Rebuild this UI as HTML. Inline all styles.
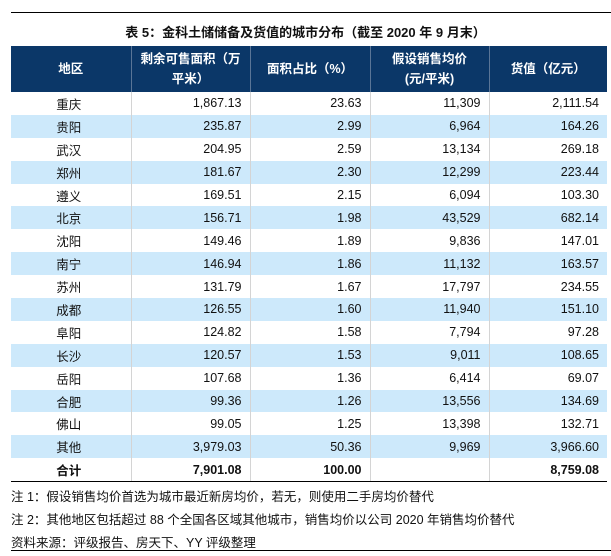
<!DOCTYPE html>
<html><head><meta charset="utf-8"><style>
body{margin:0;width:611px;height:556px;background:#fff;font-family:"Liberation Sans","Noto Sans CJK SC",sans-serif;position:relative;overflow:hidden}
.topline{position:absolute;left:11px;right:0;top:12px;border-top:1.5px solid #000}
.title{position:absolute;left:0;width:611px;top:22px;text-align:center;font-weight:bold;font-size:13px;color:#111}
table{position:absolute;left:11px;top:46px;width:596px;border-collapse:collapse;font-size:12.5px;color:#111}
th{background:#0b3768;color:#fff;font-weight:bold;height:46px;padding:0 4px;line-height:20px;border-left:1px solid #5a7597}
th:first-child{border-left:none}
td{height:22.9px;padding:0 8px 0 4px;text-align:right;border-left:1px solid #d4d4d4}
td:first-child{text-align:center;border-left:none}
tr.b td{background:#cde9fb}
tr.t td{font-weight:bold;border-bottom:1.5px solid #000}
.n{position:absolute;left:11px;font-size:12.5px;color:#111}
.bot{position:absolute;left:11px;right:0;top:550px;border-top:1.5px solid #000}
</style></head><body>
<div class="topline"></div>
<div class="title">表 5：金科土储储备及货值的城市分布（截至 2020 年 9 月末）</div>
<table>
<colgroup><col style="width:120px"><col style="width:119px"><col style="width:120px"><col style="width:119px"><col style="width:118px"></colgroup>
<tr><th>地区</th><th>剩余可售面积（万<br>平米）</th><th>面积占比（%）</th><th>假设销售均价<br>(元/平米)</th><th>货值（亿元）</th></tr>
<tr><td>重庆</td><td>1,867.13</td><td>23.63</td><td>11,309</td><td>2,111.54</td></tr>
<tr class="b"><td>贵阳</td><td>235.87</td><td>2.99</td><td>6,964</td><td>164.26</td></tr>
<tr><td>武汉</td><td>204.95</td><td>2.59</td><td>13,134</td><td>269.18</td></tr>
<tr class="b"><td>郑州</td><td>181.67</td><td>2.30</td><td>12,299</td><td>223.44</td></tr>
<tr><td>遵义</td><td>169.51</td><td>2.15</td><td>6,094</td><td>103.30</td></tr>
<tr class="b"><td>北京</td><td>156.71</td><td>1.98</td><td>43,529</td><td>682.14</td></tr>
<tr><td>沈阳</td><td>149.46</td><td>1.89</td><td>9,836</td><td>147.01</td></tr>
<tr class="b"><td>南宁</td><td>146.94</td><td>1.86</td><td>11,132</td><td>163.57</td></tr>
<tr><td>苏州</td><td>131.79</td><td>1.67</td><td>17,797</td><td>234.55</td></tr>
<tr class="b"><td>成都</td><td>126.55</td><td>1.60</td><td>11,940</td><td>151.10</td></tr>
<tr><td>阜阳</td><td>124.82</td><td>1.58</td><td>7,794</td><td>97.28</td></tr>
<tr class="b"><td>长沙</td><td>120.57</td><td>1.53</td><td>9,011</td><td>108.65</td></tr>
<tr><td>岳阳</td><td>107.68</td><td>1.36</td><td>6,414</td><td>69.07</td></tr>
<tr class="b"><td>合肥</td><td>99.36</td><td>1.26</td><td>13,556</td><td>134.69</td></tr>
<tr><td>佛山</td><td>99.05</td><td>1.25</td><td>13,398</td><td>132.71</td></tr>
<tr class="b"><td>其他</td><td>3,979.03</td><td>50.36</td><td>9,969</td><td>3,966.60</td></tr>
<tr class="t"><td>合计</td><td>7,901.08</td><td>100.00</td><td></td><td>8,759.08</td></tr>
</table>
<div class="n" style="top:486px">注 1：假设销售均价首选为城市最近新房均价，若无，则使用二手房均价替代</div>
<div class="n" style="top:509px">注 2：其他地区包括超过 88 个全国各区域其他城市，销售均价以公司 2020 年销售均价替代</div>
<div class="n" style="top:532px">资料来源：评级报告、房天下、YY 评级整理</div>
<div class="bot"></div>
</body></html>
